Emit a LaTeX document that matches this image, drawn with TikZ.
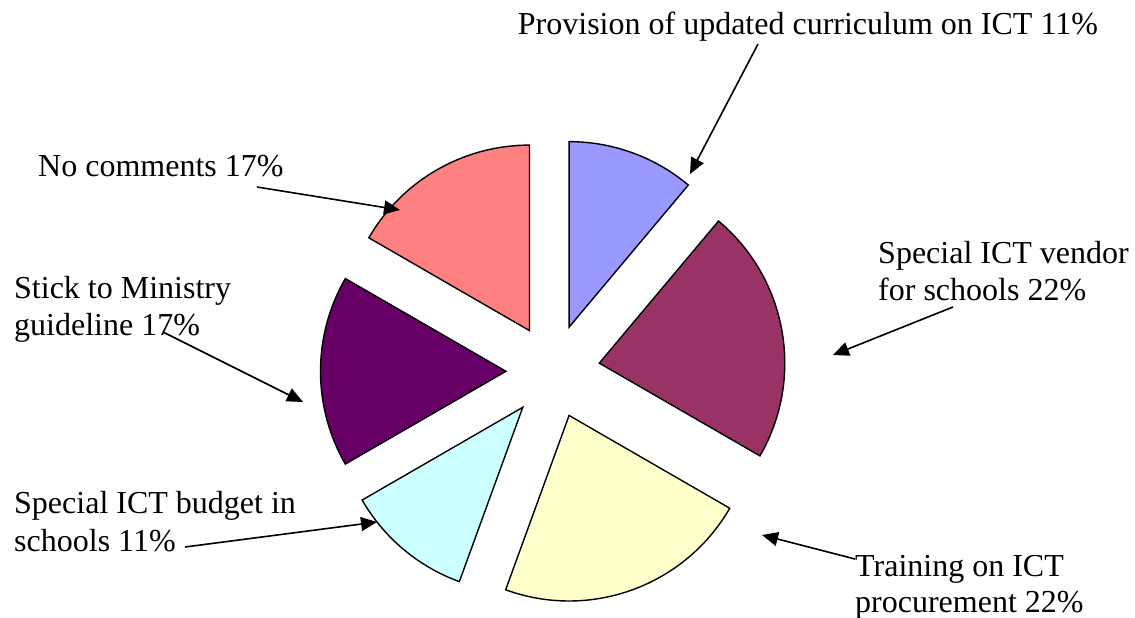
\documentclass[tikz,border=0pt]{standalone}
\usepackage{fontspec}
\setmainfont{Liberation Serif}
\usetikzlibrary{arrows.meta}
\definecolor{pieblue}{HTML}{9999FF}
\definecolor{piemaroon}{HTML}{993366}
\definecolor{pieyellow}{HTML}{FFFFCC}
\definecolor{piecyan}{HTML}{CCFFFF}
\definecolor{piepurple}{HTML}{660066}
\definecolor{piesalmon}{HTML}{FF8080}
\begin{document}
\begin{tikzpicture}[x=1pt,y=1pt,
  lbl/.style={anchor=base west, inner sep=0pt, font=\fontsize{32}{37}\selectfont},
  slice/.style={draw=black, line width=1.4pt, line join=miter},
  pointer/.style={draw=black, line width=1.6pt, -{Triangle[length=16pt,width=14pt]}}]
\useasboundingbox (0,-618) rectangle (1135,0);
\fill[white] (0,-618) rectangle (1135,0);

% exploded pie: each slice pushed out along its bisector
\def\pr{185.5}
\begin{scope}[shift={(553,-371.3)}]
  \foreach \a/\b/\c in {90/50/pieblue, 50/-30/piemaroon, -30/-110/pieyellow,
                        -110/-150/piecyan, 210/150/piepurple, 150/90/piesalmon}
  {
    \pgfmathsetmacro\m{(\a+\b)/2}
    \filldraw[slice, fill=\c, shift={(\m:47)}]
      (0,0) -- (\a:\pr) arc[start angle=\a, end angle=\b, radius=\pr] -- cycle;
  }
\end{scope}

% labels
\node[lbl] (prov)   at (517.7,-35)  {Provision of updated curriculum on ICT 11\%};
\node[lbl] (nocom)  at (38,-176)    {No comments 17\%};
\node[lbl] (stickA) at (14,-298.3)  {Stick to Ministry};
\node[lbl] (stickB) at (14,-335)    {guideline 17\%};
\node[lbl] (budA)   at (14,-513.3)  {Special ICT budget in};
\node[lbl] (budB)   at (14,-551)    {schools 11\%};
\node[lbl] (venA)   at (878,-263.3) {Special ICT vendor};
\node[lbl] (venB)   at (878,-300)   {for schools 22\%};
\node[lbl] (trA)    at (855,-576)   {Training on ICT};
\node[lbl] (trB)    at (855,-612)   {procurement 22\%};

% pointer ends
\coordinate (provTail)  at (758,-44);
\coordinate (provTip)   at (690,-174);
\coordinate (nocomTail) at (257,-187);
\coordinate (nocomTip)  at (400,-210);
\coordinate (stickTail) at (163,-332);
\coordinate (stickTip)  at (303,-402);
\coordinate (budTail)   at (185,-547);
\coordinate (budTip)    at (377,-522);
\coordinate (venTail)   at (953,-307);
\coordinate (venTip)    at (833,-355);
\coordinate (trTail)    at (855,-559);
\coordinate (trTip)     at (762,-535);

\draw[pointer] (provTail)  -- (provTip);
\draw[pointer] (nocomTail) -- (nocomTip);
\draw[pointer] (stickTail) -- (stickTip);
\draw[pointer] (budTail)   -- (budTip);
\draw[pointer] (venTail)   -- (venTip);
\draw[pointer] (trTail)    -- (trTip);
\end{tikzpicture}
\end{document}
